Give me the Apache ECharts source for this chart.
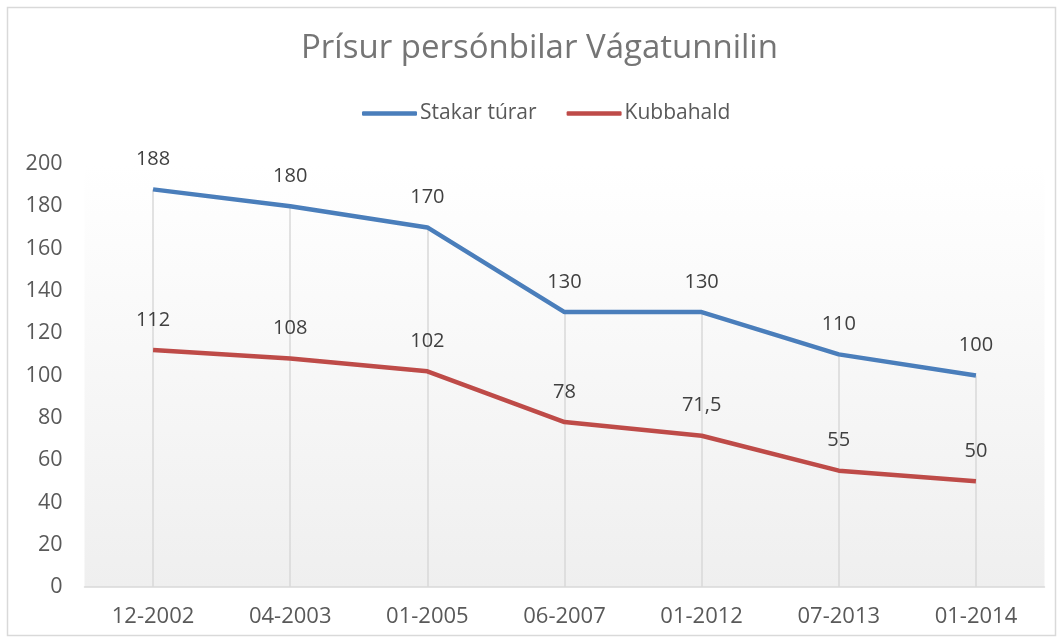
<!DOCTYPE html>
<html><head><meta charset="utf-8">
<script src="https://cdn.jsdelivr.net/npm/echarts@6/dist/echarts.min.js"></script>
<style>html,body{margin:0;padding:0;background:#fff}#c{width:1062px;height:644px}</style>
</head><body><div id="c"></div>
<script>
const title = 'Prísur persónbilar Vágatunnilin';
const categories = ['12-2002','04-2003','01-2005','06-2007','01-2012','07-2013','01-2014'];
const stakarName = 'Stakar túrar';
const stakar = [188,180,170,130,130,110,100];
const kubbaName = 'Kubbahald';
const kubba = [112,108,102,78,71.5,55,50];
const yTicks = {min:0, max:200, interval:20};

const FONT = 'Open Sans';
const chart = echarts.init(document.getElementById('c'), null, {renderer:'canvas'});
const fmt = p => String(p.value).replace('.', ',');
const dropLines = categories.map((c,i)=>[{coord:[c, Math.max(stakar[i],kubba[i])]},{coord:[c,0]}]);
const lbl = {show:true, position:'top', distance:20, fontFamily:FONT, fontSize:20, color:'#404040', formatter:fmt};
chart.setOption({
  backgroundColor:'#fff',
  animation:false,
  title:{text:title, left:296, top:27, textStyle:{fontFamily:FONT, fontSize:33, fontWeight:'normal', color:'#757575'}},
  legend:{top:98, left:357, itemWidth:55, itemHeight:4.5, itemGap:30, icon:'roundRect',
    textStyle:{fontFamily:FONT, fontSize:21, color:'#595959', padding:[0,0,0,-2]},
    data:[stakarName,kubbaName]},
  graphic:[{type:'rect', shape:{x:7.5,y:7.5,width:1048,height:628}, style:{fill:'none', stroke:'#d9d9d9', lineWidth:1.5}, z:-1}],
  grid:{left:84.5, right:17.5, top:164, bottom:57, show:true, borderWidth:0,
    backgroundColor:new echarts.graphic.LinearGradient(0,0,0,1,[{offset:0,color:'#ffffff'},{offset:1,color:'#efefef'}])},
  xAxis:{type:'category', data:categories, boundaryGap:true,
    axisLine:{lineStyle:{color:'#d9d9d9', width:1.5}}, axisTick:{show:false},
    axisLabel:{fontFamily:FONT, fontSize:22, color:'#595959', margin:19}},
  yAxis:{type:'value', min:yTicks.min, max:yTicks.max, interval:yTicks.interval,
    axisLine:{show:false}, axisTick:{show:false}, splitLine:{show:false},
    axisLabel:{fontFamily:FONT, fontSize:21.5, color:'#595959', margin:22}},
  series:[
    {name:stakarName, type:'line', data:stakar, symbol:'circle', symbolSize:0.1, showSymbol:true,
     lineStyle:{color:'#4a7ebb', width:4.5}, itemStyle:{color:'#4a7ebb'}, label:lbl, z:3,
     markLine:{silent:true, symbol:'none', label:{show:false}, lineStyle:{color:'#d9d9d9', width:1.5, type:'solid'}, data:dropLines, z:1}},
    {name:kubbaName, type:'line', data:kubba, symbol:'circle', symbolSize:0.1, showSymbol:true,
     lineStyle:{color:'#be4b48', width:4.5}, itemStyle:{color:'#be4b48'}, label:lbl, z:3}
  ]
});
</script></body></html>
